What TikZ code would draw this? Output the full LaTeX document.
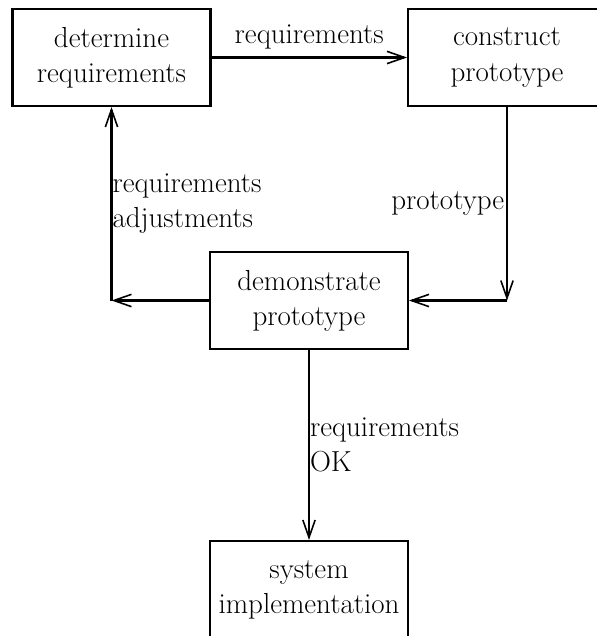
\documentclass[tikz,border=0pt]{standalone}
\usepackage{tikz}
\usetikzlibrary{arrows.meta}

\begin{document}
\begin{tikzpicture}[x=0.02cm,y=-0.02cm,
    line width=1.2pt,
    every node/.style={font=\fontsize{16.5}{20}\selectfont},
    box/.style={draw,align=center,minimum width=3.96cm,minimum height=1.94cm,inner sep=0pt},
    flow/.style={-{Straight Barb[length=10pt,width=7pt,line width=0.9pt]}}]
  % Boundary
  \useasboundingbox (0,0) rectangle (597,636);
  % Boxes
  \node[box] (det) at (111.5,57.5) {determine\\requirements};
  \node[box] (con) at (507,57.5) {construct\\prototype};
  \node[box] (demo) at (309,300.5) {demonstrate\\prototype};
  \node[box] (sys) at (309,589.5) {system\\implementation};
  % Corners
  \coordinate (rc) at (con.south |- demo.east);
  \coordinate (lc) at (det.south |- demo.west);
  % Flows
  \draw[flow] (det) -- (con) node [midway,above=1pt] {requirements};
  \draw[flow] (con) -- (rc) node [midway,left,inner sep=1pt] {prototype};
  \draw[flow] (rc) -- (demo);
  \draw[flow] (demo) -- (lc);
  \draw[flow] (lc) -- (det) node [midway,right,align=left,inner sep=0pt] {requirements\\adjustments};
  \draw[flow] (demo) -- (sys) node [midway,right,align=left,inner sep=0pt] {requirements\\OK};
\end{tikzpicture}
\end{document}
